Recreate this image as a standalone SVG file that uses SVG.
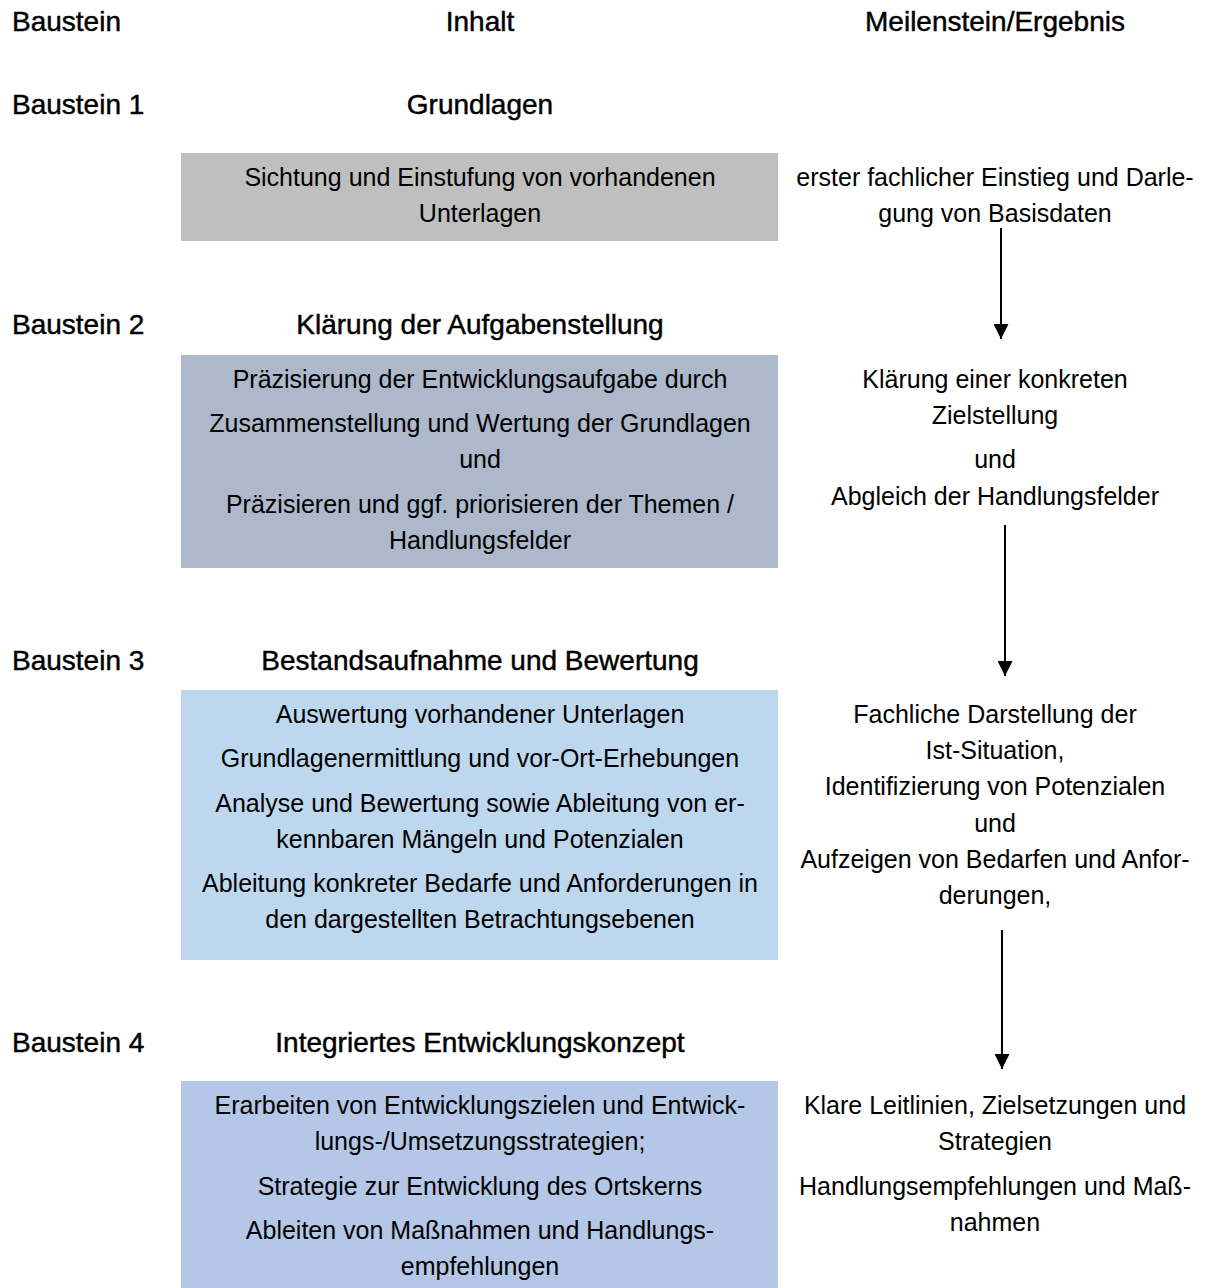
<svg xmlns="http://www.w3.org/2000/svg" width="1206" height="1288" viewBox="0 0 1206 1288">
<style>
text{font-family:"Liberation Sans",Arial,sans-serif;fill:#000}
.h{font-size:28px;stroke:#000;stroke-width:0.45}
.t{font-size:25px;text-anchor:middle}
.c{text-anchor:middle}
.conn line{stroke:#000;stroke-width:2}
</style>
<defs>
<marker id="ah" viewBox="0 0 10 10" refX="10" refY="5" markerWidth="15" markerHeight="15" markerUnits="userSpaceOnUse" orient="auto"><path d="M0,0 L10,5 L0,10 z" fill="#000"/></marker>
</defs>
<rect width="1206" height="1288" fill="#fff"/>
<g id="header">
<text class="h" x="12" y="31">Baustein</text>
<text class="h c" x="480" y="31">Inhalt</text>
<text class="h c" x="995" y="31">Meilenstein/Ergebnis</text>
</g>
<g id="baustein1">
<text class="h" x="12" y="114">Baustein 1</text>
<text class="h c" x="480" y="114">Grundlagen</text>
<rect x="181" y="153" width="597" height="88" fill="#BFBFBF"/>
<text class="t" x="480" y="186">Sichtung und Einstufung von vorhandenen</text>
<text class="t" x="480" y="222">Unterlagen</text>
</g>
<g id="ergebnis1">
<text class="t" x="995" y="186">erster fachlicher Einstieg und Darle-</text>
<text class="t" x="995" y="222">gung von Basisdaten</text>
</g>
<g id="baustein2">
<text class="h" x="12" y="334">Baustein 2</text>
<text class="h c" x="480" y="334">Klärung der Aufgabenstellung</text>
<rect x="181" y="355" width="597" height="213" fill="#ADB9CA"/>
<text class="t" x="480" y="388">Präzisierung der Entwicklungsaufgabe durch</text>
<text class="t" x="480" y="432">Zusammenstellung und Wertung der Grundlagen</text>
<text class="t" x="480" y="468">und</text>
<text class="t" x="480" y="513">Präzisieren und ggf. priorisieren der Themen /</text>
<text class="t" x="480" y="549">Handlungsfelder</text>
</g>
<g id="ergebnis2">
<text class="t" x="995" y="388">Klärung einer konkreten</text>
<text class="t" x="995" y="424">Zielstellung</text>
<text class="t" x="995" y="468">und</text>
<text class="t" x="995" y="505">Abgleich der Handlungsfelder</text>
</g>
<g id="baustein3">
<text class="h" x="12" y="670">Baustein 3</text>
<text class="h c" x="480" y="670">Bestandsaufnahme und Bewertung</text>
<rect x="181" y="690" width="597" height="270" fill="#BDD7EE"/>
<text class="t" x="480" y="723">Auswertung vorhandener Unterlagen</text>
<text class="t" x="480" y="767">Grundlagenermittlung und vor-Ort-Erhebungen</text>
<text class="t" x="480" y="812">Analyse und Bewertung sowie Ableitung von er-</text>
<text class="t" x="480" y="848">kennbaren Mängeln und Potenzialen</text>
<text class="t" x="480" y="892">Ableitung konkreter Bedarfe und Anforderungen in</text>
<text class="t" x="480" y="928">den dargestellten Betrachtungsebenen</text>
</g>
<g id="ergebnis3">
<text class="t" x="995" y="723">Fachliche Darstellung der</text>
<text class="t" x="995" y="759">Ist-Situation,</text>
<text class="t" x="995" y="795">Identifizierung von Potenzialen</text>
<text class="t" x="995" y="832">und</text>
<text class="t" x="995" y="868">Aufzeigen von Bedarfen und Anfor-</text>
<text class="t" x="995" y="904">derungen,</text>
</g>
<g id="baustein4">
<text class="h" x="12" y="1052">Baustein 4</text>
<text class="h c" x="480" y="1052">Integriertes Entwicklungskonzept</text>
<rect x="181" y="1081" width="597" height="207" fill="#B4C7E7"/>
<text class="t" x="480" y="1114">Erarbeiten von Entwicklungszielen und Entwick-</text>
<text class="t" x="480" y="1150">lungs-/Umsetzungsstrategien;</text>
<text class="t" x="480" y="1195">Strategie zur Entwicklung des Ortskerns</text>
<text class="t" x="480" y="1239">Ableiten von Maßnahmen und Handlungs-</text>
<text class="t" x="480" y="1275">empfehlungen</text>
</g>
<g id="ergebnis4">
<text class="t" x="995" y="1114">Klare Leitlinien, Zielsetzungen und</text>
<text class="t" x="995" y="1150">Strategien</text>
<text class="t" x="995" y="1195">Handlungsempfehlungen und Maß-</text>
<text class="t" x="995" y="1231">nahmen</text>
</g>
<g id="connectors" class="conn">
<line x1="1001" y1="228" x2="1001" y2="339" marker-end="url(#ah)"/>
<line x1="1005" y1="525" x2="1005" y2="676" marker-end="url(#ah)"/>
<line x1="1002" y1="930" x2="1002" y2="1069" marker-end="url(#ah)"/>
</g>
</svg>
